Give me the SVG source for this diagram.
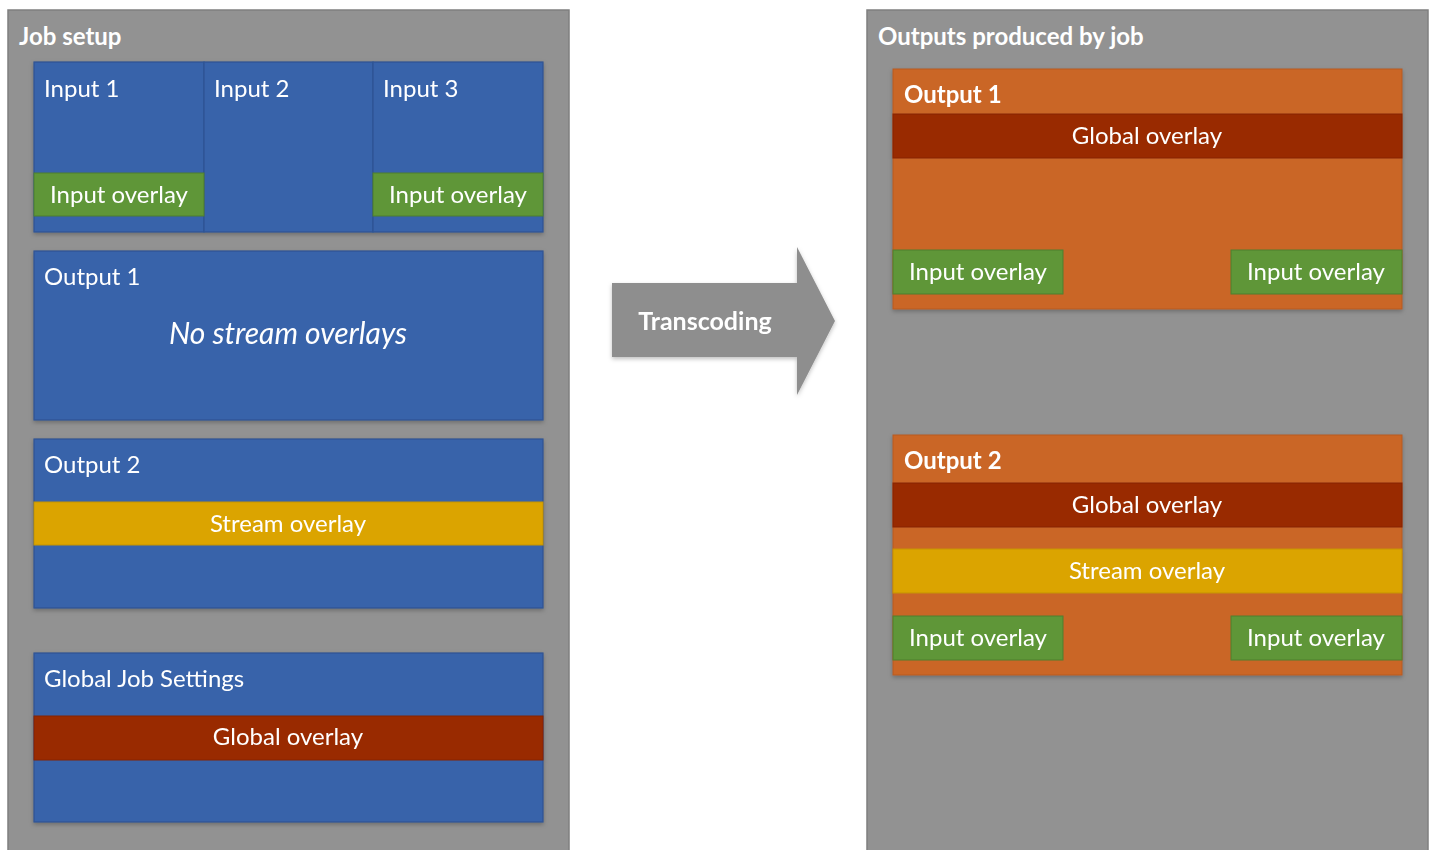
<svg xmlns="http://www.w3.org/2000/svg" width="1435" height="850" viewBox="0 0 1435 850">
<defs>
<style>
.panel{fill:#929292;stroke:#7f7f7f;stroke-width:1.5}
.blue{fill:#3863aa;stroke:#2f5493;stroke-width:1.2}
.green{fill:#5e9638;stroke:#4f7f2e;stroke-width:1}
.orange{fill:#ca6628;stroke:#b85a20;stroke-width:1}
.red{fill:#992b00;stroke:#862500;stroke-width:1}
.yellow{fill:#dba400;stroke:#c59300;stroke-width:1}
text{font-family:Lato,"Open Sans",sans-serif;fill:#ffffff;font-size:24px}
.b{font-weight:bold}
.c{text-anchor:middle}
.it{font-style:italic;font-size:30px}
.tr{font-size:25px}
</style>
<filter id="sh" x="-5%" y="-5%" width="110%" height="115%">
<feDropShadow dx="0" dy="2" stdDeviation="2" flood-color="#000" flood-opacity="0.25"/>
</filter>
</defs>
<g id="job-setup">
<rect class="panel" x="8" y="10" width="561" height="850"/>
<text class="b" x="19" y="45">Job setup</text>
</g>
<g id="inputs" filter="url(#sh)">
<rect class="blue" x="34" y="62" width="170" height="170"/>
<rect class="blue" x="204" y="62" width="169" height="170"/>
<rect class="blue" x="373" y="62" width="170" height="170"/>
<rect class="green" x="34" y="173" width="170" height="43"/>
<rect class="green" x="373" y="173" width="170" height="43"/>
<text x="44" y="97">Input 1</text>
<text x="214" y="97">Input 2</text>
<text x="383" y="97">Input 3</text>
<text class="c" x="119" y="203">Input overlay</text>
<text class="c" x="458" y="203">Input overlay</text>
</g>
<g id="output1-setup" filter="url(#sh)">
<rect class="blue" x="34" y="251" width="509" height="169"/>
<text x="44" y="285">Output 1</text>
<text class="c it" x="288" y="344">No stream overlays</text>
</g>
<g id="output2-setup" filter="url(#sh)">
<rect class="blue" x="34" y="439" width="509" height="169"/>
<rect class="yellow" x="34" y="502" width="509" height="43"/>
<text x="44" y="473">Output 2</text>
<text class="c" x="288" y="532">Stream overlay</text>
</g>
<g id="global-settings" filter="url(#sh)">
<rect class="blue" x="34" y="653" width="509" height="169"/>
<rect class="red" x="34" y="716" width="509" height="44"/>
<text x="44" y="687">Global Job Settings</text>
<text class="c" x="288" y="745">Global overlay</text>
</g>
<g id="connectors">
<g id="transcoding-arrow" filter="url(#sh)">
<polygon points="612,283 797,283 797,247 835,321 797,395 797,357 612,357" fill="#8e8e8e"/>
<text class="b c tr" x="705" y="330">Transcoding</text>
</g>
</g>
<g id="outputs-panel">
<rect class="panel" x="867" y="10" width="561" height="850"/>
<text class="b" x="878" y="45">Outputs produced by job</text>
</g>
<g id="output1" filter="url(#sh)">
<rect class="orange" x="893" y="69" width="509" height="240"/>
<rect class="red" x="893" y="114" width="509" height="44"/>
<rect class="green" x="893" y="250" width="170" height="44"/>
<rect class="green" x="1231" y="250" width="171" height="44"/>
<text class="b" x="904" y="103">Output 1</text>
<text class="c" x="1147" y="144">Global overlay</text>
<text class="c" x="978" y="280">Input overlay</text>
<text class="c" x="1316" y="280">Input overlay</text>
</g>
<g id="output2" filter="url(#sh)">
<rect class="orange" x="893" y="435" width="509" height="240"/>
<rect class="red" x="893" y="483" width="509" height="44"/>
<rect class="yellow" x="893" y="549" width="509" height="44"/>
<rect class="green" x="893" y="616" width="170" height="44"/>
<rect class="green" x="1231" y="616" width="171" height="44"/>
<text class="b" x="904" y="469">Output 2</text>
<text class="c" x="1147" y="513">Global overlay</text>
<text class="c" x="1147" y="579">Stream overlay</text>
<text class="c" x="978" y="646">Input overlay</text>
<text class="c" x="1316" y="646">Input overlay</text>
</g>
</svg>
